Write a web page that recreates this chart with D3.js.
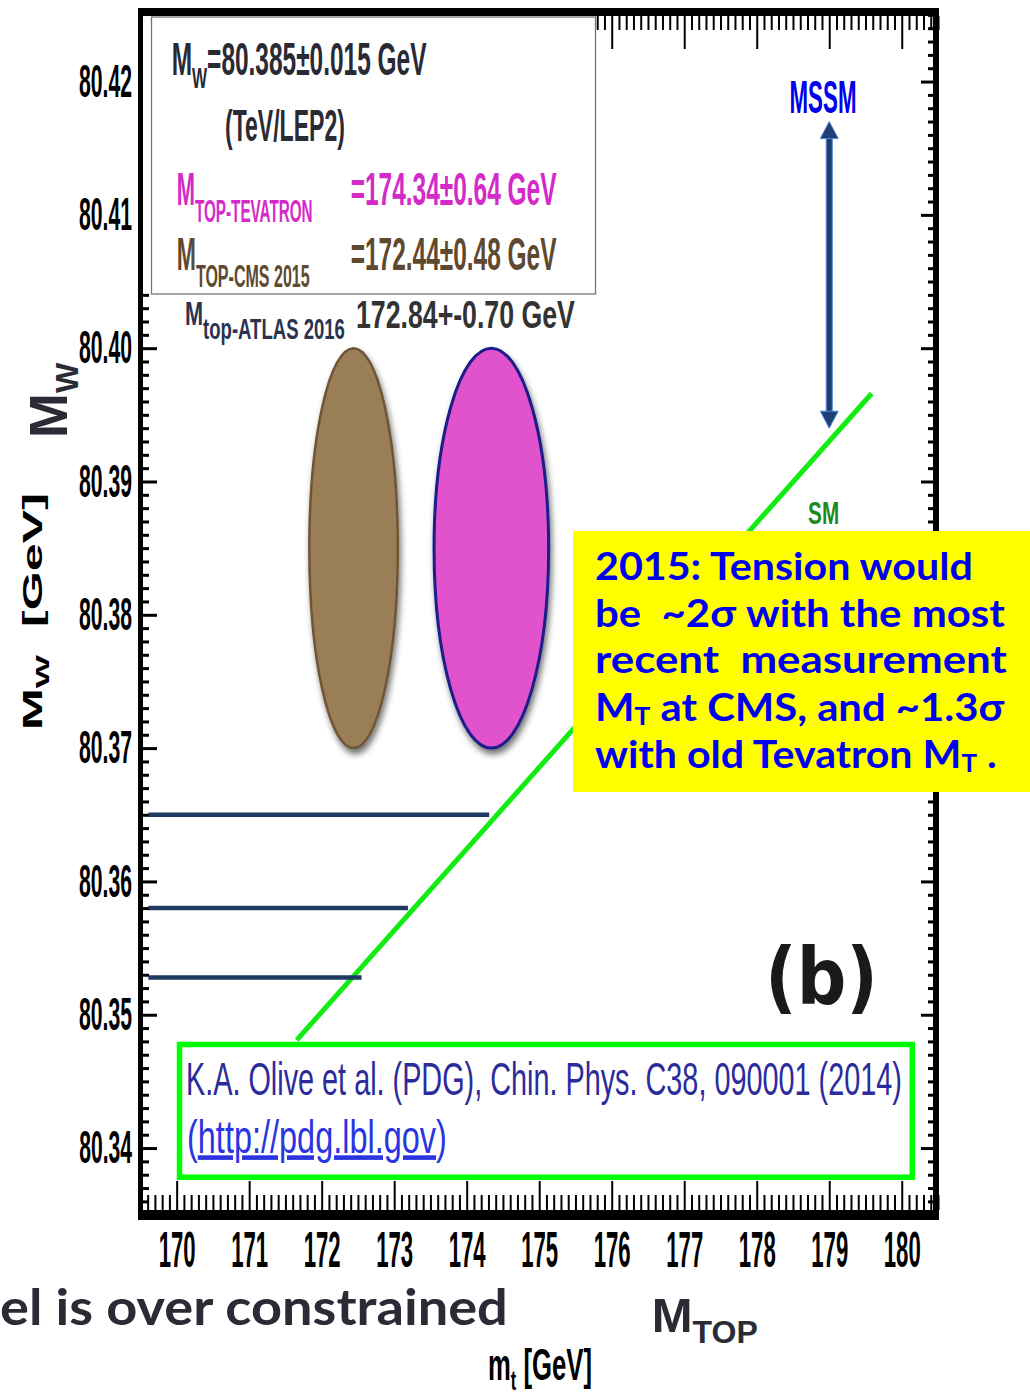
<!DOCTYPE html>
<html>
<head>
<meta charset="utf-8">
<script src="https://cdn.jsdelivr.net/npm/d3@7"></script>
<style>
body { margin: 0; background: #fff; }
svg { display: block; }
text { white-space: pre; }
</style>
</head>
<body>
<script>
// values
var xTickValues = [170, 171, 172, 173, 174, 175, 176, 177, 178, 179, 180];
var yTickValues = [80.34, 80.35, 80.36, 80.37, 80.38, 80.39, 80.40, 80.41, 80.42];
var mwValue = 80.385;
var mwError = 0.015;
var topNames = ["CMS 2015", "TEVATRON"];
var topMass = [172.44, 174.34];
var topError = [0.48, 0.64];
var topHalfWidth = [0.61, 0.79]; // drawn ellipse half widths
var atlasMass = 172.84;
var atlasError = 0.70;
var smLineMt = [171.656, 179.585];
var smLineMw = [80.3481, 80.3966];
var levelMw = [80.365, 80.358, 80.3528];
var levelMt = [174.31, 173.19, 172.55];
var levelStartMt = 169.61;
var mssmMt = 179.0;
var mssmMw = [80.394, 80.417];

var narrowFont = "'Liberation Sans Narrow', 'Liberation Sans', Arial, sans-serif";
var boldFont = "'Liberation Sans', Arial, sans-serif";
var roundFont = "Lato, 'Open Sans', sans-serif";
var ellipseFill = ["#9a7e58", "#e052cc"];
var ellipseStroke = ["#6e5636", "#1c1c8a"];

var x = d3.scaleLinear().domain([169.5, 180.5]).range([140.4, 938]);
var y = d3.scaleLinear().domain([80.335, 80.425]).range([1214.7, 14.9]);

var svg = d3.select("body").append("svg")
	.attr("width", 1030)
	.attr("height", 1399);

svg.append("rect").attr("width", 1030).attr("height", 1399).attr("fill", "#fff");

var defs = svg.append("defs");
var shadow = defs.append("filter").attr("id", "shadow")
	.attr("x", "-30%").attr("y", "-10%").attr("width", "160%").attr("height", "125%");
shadow.append("feDropShadow").attr("dx", 2).attr("dy", 5).attr("stdDeviation", 3)
	.attr("flood-color", "#000").attr("flood-opacity", 0.55);

// squeeze a text horizontally to a given width, around its anchor
function squeeze(sel, len, base) {
	sel.each(function() {
		var s = d3.select(this);
		var w = this.getBBox().width;
		var k = len / w;
		var x0 = +(s.attr("x") || 0);
		s.attr("transform", (base || "") + " translate(" + x0 + ",0) scale(" + k + ",1) translate(" + (-x0) + ",0)");
	});
	return sel;
}

// SM line
var smPoints = smLineMt.map(function(d, i) { return [d, smLineMw[i]]; });
svg.append("path")
	.datum(smPoints)
	.attr("d", d3.line().x(function(d) { return x(d[0]); }).y(function(d) { return y(d[1]); }))
	.attr("stroke", "#12ec12")
	.attr("stroke-width", 5)
	.attr("fill", "none");

// horizontal levels
svg.selectAll(".level").data(levelMw).enter().append("line")
	.attr("class", "level")
	.attr("x1", x(levelStartMt))
	.attr("x2", function(d, i) { return x(levelMt[i]); })
	.attr("y1", function(d) { return y(d); })
	.attr("y2", function(d) { return y(d); })
	.attr("stroke", "#1f3a62")
	.attr("stroke-width", 4.5);

// ellipses
svg.selectAll(".top-ellipse").data(topMass).enter().append("ellipse")
	.attr("class", "top-ellipse")
	.attr("cx", function(d) { return x(d); })
	.attr("cy", y(mwValue))
	.attr("rx", function(d, i) { return x(d + topHalfWidth[i]) - x(d); })
	.attr("ry", y(mwValue - mwError) - y(mwValue))
	.attr("fill", function(d, i) { return ellipseFill[i]; })
	.attr("stroke", function(d, i) { return ellipseStroke[i]; })
	.attr("stroke-width", function(d, i) { return i == 0 ? 2.5 : 3; })
	.attr("filter", "url(#shadow)");

// MSSM arrow
var ax = x(mssmMt);
var yLow = y(mssmMw[0]), yHigh = y(mssmMw[1]);
svg.append("rect")
	.attr("x", ax - 3).attr("y", yHigh + 15).attr("width", 6).attr("height", yLow - yHigh - 30)
	.attr("fill", "#1f3f73").attr("stroke", "#4f86d8").attr("stroke-width", 1);
svg.append("path")
	.attr("d", "M" + ax + "," + yHigh + "L" + (ax + 9) + "," + (yHigh + 17) + "L" + (ax - 9) + "," + (yHigh + 17) + "Z")
	.attr("fill", "#1f3f73").attr("stroke", "#4f86d8").attr("stroke-width", 1);
svg.append("path")
	.attr("d", "M" + ax + "," + yLow + "L" + (ax + 9) + "," + (yLow - 17) + "L" + (ax - 9) + "," + (yLow - 17) + "Z")
	.attr("fill", "#1f3f73").attr("stroke", "#4f86d8").attr("stroke-width", 1);

squeeze(svg.append("text")
	.attr("x", 823).attr("y", 113)
	.attr("text-anchor", "middle")
	.attr("font-family", narrowFont).attr("font-weight", "bold").attr("font-size", 46)
	.attr("fill", "#0000ee")
	.text("MSSM"), 67);

squeeze(svg.append("text")
	.attr("x", 823.6).attr("y", 524)
	.attr("text-anchor", "middle")
	.attr("font-family", narrowFont).attr("font-weight", "bold").attr("font-size", 31)
	.attr("fill", "#1e8a1e")
	.text("SM"), 31);

// frame
svg.append("rect").attr("x", 138).attr("y", 8).attr("width", 801).attr("height", 8).attr("fill", "#000");
svg.append("rect").attr("x", 138).attr("y", 1210).attr("width", 801).attr("height", 10).attr("fill", "#000");
svg.append("rect").attr("x", 138).attr("y", 8).attr("width", 5).attr("height", 1212).attr("fill", "#000");
svg.append("rect").attr("x", 933).attr("y", 8).attr("width", 6).attr("height", 1212).attr("fill", "#000");

var xMinor = d3.range(1695, 1806).filter(function(v) { return v % 10 != 0; }).map(function(v) { return v / 10; });
var yMinor = d3.range(80335, 80426).filter(function(v) { return v % 10 != 0; }).map(function(v) { return v / 1000; });

function cleanAxis(g, w) {
	g.select(".domain").remove();
	g.selectAll("line").attr("stroke", "#000").attr("stroke-width", w);
}
function noLabel() { return ""; }

var bottomMajor = svg.append("g").attr("transform", "translate(0,1210)")
	.call(d3.axisBottom(x).tickValues(xTickValues).tickSize(-29).tickPadding(22).tickFormat(d3.format("d")));
cleanAxis(bottomMajor, 2);
squeeze(bottomMajor.selectAll("text")
	.attr("font-family", narrowFont).attr("font-weight", "bold").attr("font-size", 50).attr("fill", "#000"), 37);

var bottomMinor = svg.append("g").attr("transform", "translate(0,1210)")
	.call(d3.axisBottom(x).tickValues(xMinor).tickSize(-15).tickFormat(noLabel));
cleanAxis(bottomMinor, 2);

var topMajor = svg.append("g").attr("transform", "translate(0,16)")
	.call(d3.axisTop(x).tickValues(xTickValues).tickSize(-33).tickFormat(noLabel));
cleanAxis(topMajor, 2);
var topMinor = svg.append("g").attr("transform", "translate(0,16)")
	.call(d3.axisTop(x).tickValues(xMinor).tickSize(-14).tickFormat(noLabel));
cleanAxis(topMinor, 2);

var leftMajor = svg.append("g").attr("transform", "translate(143,0)")
	.call(d3.axisLeft(y).tickValues(yTickValues).tickSize(-14).tickPadding(11).tickFormat(d3.format(".2f")));
cleanAxis(leftMajor, 3);
squeeze(leftMajor.selectAll("text")
	.attr("font-family", narrowFont).attr("font-weight", "bold").attr("font-size", 46).attr("fill", "#000"), 53);

var leftMinor = svg.append("g").attr("transform", "translate(143,0)")
	.call(d3.axisLeft(y).tickValues(yMinor).tickSize(-6).tickFormat(noLabel));
cleanAxis(leftMinor, 3);

var rightMajor = svg.append("g").attr("transform", "translate(933,0)")
	.call(d3.axisRight(y).tickValues(yTickValues).tickSize(-12).tickFormat(noLabel));
cleanAxis(rightMajor, 3);
var rightMinor = svg.append("g").attr("transform", "translate(933,0)")
	.call(d3.axisRight(y).tickValues(yMinor).tickSize(-5).tickFormat(noLabel));
cleanAxis(rightMinor, 3);

// top-left info box
svg.append("rect").attr("x", 143).attr("y", 16).attr("width", 453).attr("height", 270).attr("fill", "#fff");
svg.append("rect").attr("x", 151.5).attr("y", 17).attr("width", 444).attr("height", 277)
	.attr("fill", "#fff").attr("stroke", "#777").attr("stroke-width", 1.3);

var t = svg.append("text").attr("x", 171.7).attr("y", 75)
	.attr("font-family", narrowFont).attr("font-weight", "bold").attr("font-size", 46).attr("fill", "#2a2a35");
t.append("tspan").text("M");
t.append("tspan").attr("font-size", 30).attr("dy", 13).text("W");
t.append("tspan").attr("dy", -13).text("=" + mwValue + "±" + mwError + " GeV");
squeeze(t, 255);

squeeze(svg.append("text").attr("x", 225).attr("y", 141)
	.attr("font-family", narrowFont).attr("font-weight", "bold").attr("font-size", 44).attr("fill", "#2a2a35")
	.text("(TeV/LEP2)"), 120);

var topColors = ["#5e4a30", "#d42ac8"];
var topRows = [270, 205];
var topNameLen = [133, 136];
topMass.forEach(function(m, i) {
	var n = svg.append("text").attr("x", 176.7).attr("y", topRows[i])
		.attr("font-family", narrowFont).attr("font-weight", "bold").attr("font-size", 46).attr("fill", topColors[i]);
	n.append("tspan").text("M");
	n.append("tspan").attr("font-size", 32).attr("dy", 16.7).text("TOP-" + topNames[i]);
	squeeze(n, topNameLen[i]);
	squeeze(svg.append("text").attr("x", 350.7).attr("y", topRows[i])
		.attr("font-family", narrowFont).attr("font-weight", "bold").attr("font-size", 46).attr("fill", topColors[i])
		.text("=" + m + "±" + topError[i] + " GeV"), 206);
});

var at = svg.append("text").attr("x", 185).attr("y", 325)
	.attr("font-family", narrowFont).attr("font-weight", "bold").attr("font-size", 34).attr("fill", "#2b3352");
at.append("tspan").text("M");
at.append("tspan").attr("font-size", 29).attr("dy", 14).text("top-ATLAS 2016");
squeeze(at, 160);
squeeze(svg.append("text").attr("x", 356).attr("y", 328)
	.attr("font-family", narrowFont).attr("font-weight", "bold").attr("font-size", 39).attr("fill", "#333")
	.text(atlasMass + "+-" + atlasError.toFixed(2) + " GeV"), 219);

// yellow note
svg.append("rect").attr("x", 573).attr("y", 531).attr("width", 457).attr("height", 261).attr("fill", "#ffff00");
var noteLines = [
	{ y: 580, len: 378, parts: [["2015: Tension would", 0]] },
	{ y: 627, len: 410, parts: [["be  ~2σ with the most", 0]] },
	{ y: 673, len: 412, parts: [["recent  measurement", 0]] },
	{ y: 721, len: 410, parts: [["M", 0], ["T", 1], [" at CMS, and ~1.3σ", 2]] },
	{ y: 768, len: 402, parts: [["with old Tevatron M", 0], ["T", 1], [" .", 2]] }
];
noteLines.forEach(function(l) {
	var nt = svg.append("text").attr("x", 595).attr("y", l.y)
		.attr("font-family", roundFont).attr("font-weight", "bold").attr("font-size", 38)
		.attr("fill", "#0000f0");
	l.parts.forEach(function(p) {
		var s = nt.append("tspan").text(p[0]);
		if (p[1] == 1) s.attr("font-size", 24).attr("dy", 4);
		if (p[1] == 2) s.attr("dy", -4);
	});
	squeeze(nt, l.len);
});

// (b)
squeeze(svg.append("text").attr("x", 765).attr("y", 1004)
	.attr("font-family", "'DejaVu Sans', sans-serif").attr("font-weight", "bold").attr("font-size", 78)
	.attr("fill", "#1a1a1a").text("(b)"), 113);

// citation box
svg.append("rect").attr("x", 179.5).attr("y", 1044.5).attr("width", 732.8).attr("height", 132.7)
	.attr("fill", "#fff").attr("stroke", "#00ff00").attr("stroke-width", 5.5);
squeeze(svg.append("text").attr("x", 186).attr("y", 1095)
	.attr("font-family", narrowFont).attr("font-size", 46).attr("fill", "#2b2b9c")
	.text("K.A. Olive et al. (PDG), Chin. Phys. C38, 090001 (2014)"), 716);
var url = svg.append("text").attr("x", 187).attr("y", 1153)
	.attr("font-family", narrowFont).attr("font-size", 46).attr("fill", "#2a35e0");
url.append("tspan").text("(");
url.append("tspan").attr("text-decoration", "underline").text("http://pdg.lbl.gov");
url.append("tspan").text(")");
squeeze(url, 260);

// axis titles and slide text
var mw = svg.append("text").attr("transform", "translate(67,438) rotate(-90)")
	.attr("font-family", boldFont).attr("font-weight", "bold").attr("font-size", 54).attr("fill", "#2b2b35");
mw.append("tspan").text("M");
mw.append("tspan").attr("font-size", 32).attr("dy", 11).text("W");

var mwg = svg.append("text").attr("x", 0).attr("y", 0)
	.attr("font-family", boldFont).attr("font-weight", "bold").attr("font-size", 27).attr("fill", "#000");
mwg.append("tspan").text("M");
mwg.append("tspan").attr("font-size", 19).attr("dy", 7).text("W");
mwg.append("tspan").attr("dy", -7).text("  [GeV]");
squeeze(mwg, 237, "translate(41.7,730) rotate(-90)");

squeeze(svg.append("text").attr("x", 0).attr("y", 1325)
	.attr("font-family", roundFont).attr("font-weight", "bold").attr("font-size", 50)
	.attr("fill", "#2b2b35").text("el is over constrained"), 508);

var mtop = svg.append("text").attr("x", 651.7).attr("y", 1331.7)
	.attr("font-family", boldFont).attr("font-weight", "bold").attr("font-size", 49).attr("fill", "#2b2b35");
mtop.append("tspan").text("M");
mtop.append("tspan").attr("font-size", 32).attr("dy", 11.3).text("TOP");

var mt = svg.append("text").attr("x", 488).attr("y", 1380)
	.attr("font-family", narrowFont).attr("font-weight", "bold").attr("font-size", 44).attr("fill", "#000");
mt.append("tspan").text("m");
mt.append("tspan").attr("font-size", 28).attr("dy", 10).text("t");
mt.append("tspan").attr("dy", -10).text(" [GeV]");
squeeze(mt, 104);
</script>
</body>
</html>
